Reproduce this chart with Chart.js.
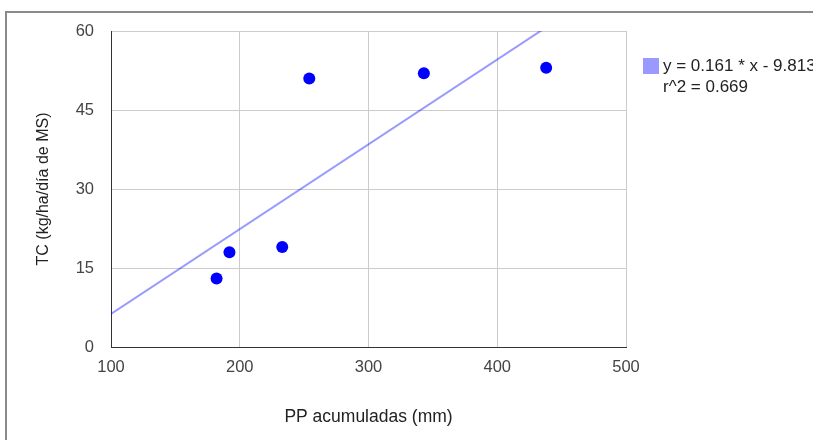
<!DOCTYPE html>
<html>
<head>
<meta charset="utf-8">
<script src="https://cdn.jsdelivr.net/npm/chart.js@4/dist/chart.umd.min.js"></script>
<style>
  html, body { margin: 0; padding: 0; background: #fff; }
  #wrap { position: relative; width: 813px; height: 440px; overflow: hidden; }
  #frame { position: absolute; left: 5px; top: 11px; width: 900px; height: 500px;
           border-left: 2px solid #8a8a8a; border-top: 2px solid #8a8a8a; }
  canvas { position: absolute; left: 0; top: 0; }
  #legend { position: absolute; left: 643px; top: 55px; font-family: "Liberation Sans", Arial, sans-serif;
            font-size: 17px; line-height: 21px; color: #222; white-space: nowrap; }
  #legend .sw { position: absolute; left: 0; top: 3px; width: 16px; height: 16px; background: #9999ff; }
  #legend .txt { position: absolute; left: 20px; top: 0; }
</style>
</head>
<body>
<div id="wrap">
  <div id="frame"></div>
  <canvas id="c" width="813" height="440"></canvas>
  <div id="legend"><div class="sw"></div><div class="txt" id="legendText"></div></div>
</div>
<script>
const ppAcumuladas = [182, 192, 233, 254, 343, 438];
const tcValues = [13, 18, 19, 51, 52, 53];
const xTickValues = [100, 200, 300, 400, 500];
const yTickValues = [0, 15, 30, 45, 60];
const trendSlope = 0.161;
const trendIntercept = -9.813;
const trendR2 = 0.669;
const xTitle = "PP acumuladas (mm)";
const yTitle = "TC (kg/ha/día de MS)";

document.getElementById('legendText').innerHTML =
  'y = ' + trendSlope + ' * x - ' + Math.abs(trendIntercept) + '<br>r^2 = ' + trendR2;

const points = ppAcumuladas.map((x, i) => ({ x: x, y: tcValues[i] }));
const xMin = xTickValues[0], xMax = xTickValues[xTickValues.length - 1];
const trendPoints = [xMin, xMax].map(x => ({ x: x, y: trendSlope * x + trendIntercept }));

const fontFam = '"Liberation Sans", Arial, sans-serif';

new Chart(document.getElementById('c'), {
  type: 'scatter',
  data: {
    datasets: [
      {
        label: 'TC',
        data: points,
        backgroundColor: '#0000ff',
        borderWidth: 0,
        pointRadius: 6,
        pointHoverRadius: 6
      },
      {
        type: 'line',
        label: 'trend',
        data: trendPoints,
        borderColor: 'rgba(0,0,255,0.4)',
        borderWidth: 2,
        pointRadius: 0,
        fill: false,
        clip: 0
      }
    ]
  },
  options: {
    responsive: false,
    animation: false,
    events: [],
    layout: { padding: { top: 31, right: 187, left: 0, bottom: 0 } },
    plugins: { legend: { display: false }, tooltip: { enabled: false } },
    scales: {
      x: {
        type: 'linear',
        min: xMin, max: xMax,
        afterBuildTicks: s => { s.ticks = xTickValues.map(v => ({ value: v })); },
        afterFit: s => { s.height = 93; },
        grid: { color: '#cccccc', drawTicks: false },
        border: { color: '#333333', width: 1 },
        ticks: { padding: 11, color: '#444444', font: { family: fontFam, size: 16.5 } },
        title: { display: true, text: xTitle, color: '#222222',
                 font: { family: fontFam, size: 17.5 }, padding: { top: 0, bottom: 12 } }
      },
      y: {
        type: 'linear',
        min: yTickValues[0], max: yTickValues[yTickValues.length - 1],
        afterBuildTicks: s => { s.ticks = yTickValues.map(v => ({ value: v })); },
        afterFit: s => { s.width = 111; },
        grid: { color: '#cccccc', drawTicks: false },
        border: { color: '#333333', width: 1 },
        ticks: { padding: 17, color: '#444444', font: { family: fontFam, size: 16.5 } },
        title: { display: true, text: yTitle, color: '#222222',
                 font: { family: fontFam, size: 16 }, padding: { top: 34, bottom: 0 } }
      }
    }
  }
});
</script>
</body>
</html>
